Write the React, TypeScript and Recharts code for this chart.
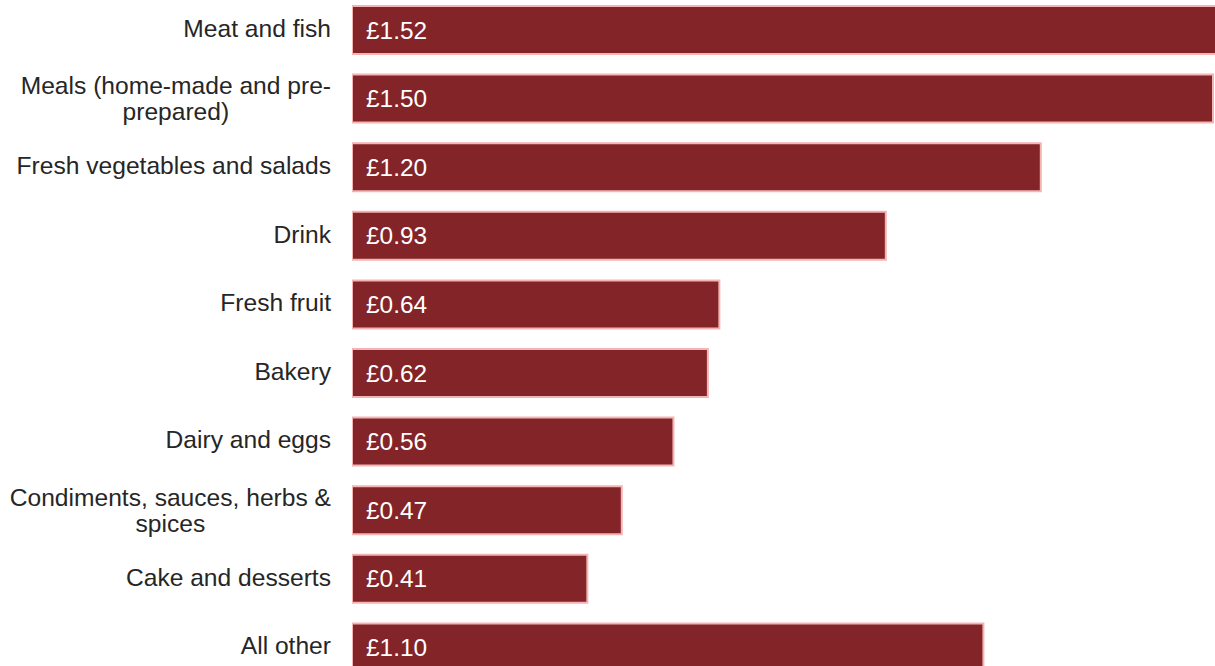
import { BarChart, Bar, XAxis, YAxis, LabelList } from 'recharts';

const categories = [
  'Meat and fish',
  'Meals (home-made and pre-\nprepared)',
  'Fresh vegetables and salads',
  'Drink',
  'Fresh fruit',
  'Bakery',
  'Dairy and eggs',
  'Condiments, sauces, herbs &\nspices',
  'Cake and desserts',
  'All other',
];

const spend = [1.52, 1.5, 1.2, 0.93, 0.64, 0.62, 0.56, 0.47, 0.41, 1.1];

const data = categories.map((name, i) => ({ name, value: spend[i] }));

const FONT = '"Liberation Sans", Arial, sans-serif';
const TICK_SIZE = 24.6;

let ctx: CanvasRenderingContext2D | null = null;
function textWidth(s: string) {
  if (!ctx) ctx = document.createElement('canvas').getContext('2d');
  if (!ctx) return s.length * 12;
  ctx.font = `${TICK_SIZE}px ${FONT}`;
  return ctx.measureText(s).width;
}

function CategoryTick(props: any) {
  const { x, y, payload } = props;
  const lines: string[] = String(payload.value).split('\n');
  if (lines.length === 1) {
    return (
      <text x={x} y={y - 2} textAnchor="end" dominantBaseline="central"
        fontSize={TICK_SIZE} fontFamily={FONT} fill="#262626">
        {lines[0]}
      </text>
    );
  }
  // centred lines inside a right-aligned block
  const w = Math.max(...lines.map(textWidth));
  const cx = x - w / 2;
  const lh = 26;
  const top = y - 1 - ((lines.length - 1) * lh) / 2;
  return (
    <text textAnchor="middle" dominantBaseline="central" fontSize={TICK_SIZE}
      fontFamily={FONT} fill="#262626">
      {lines.map((l, i) => (
        <tspan key={i} x={cx} y={top + i * lh}>{l}</tspan>
      ))}
    </text>
  );
}

function ValueLabel(props: any) {
  const { x, y, height, value } = props;
  return (
    <text x={x + 14} y={y + height / 2} dominantBaseline="central"
      fontSize={24.4} fontFamily={FONT} fill="#ffffff">
      {`£${Number(value).toFixed(2)}`}
    </text>
  );
}

export default function App() {
  return (
    <div style={{ position: 'fixed', left: 0, top: 0, width: 1215, height: 666, overflow: 'hidden', background: '#fff' }}>
      <div style={{ position: 'absolute', left: 0, top: -4 }}>
        <BarChart width={1500} height={686} data={data} layout="vertical"
          margin={{ top: 0, right: 0, bottom: 0, left: 0 }}>
          <XAxis type="number" domain={[0, 2]} hide allowDataOverflow />
          <YAxis type="category" dataKey="name" width={352} axisLine={false}
            tickLine={false} tickSize={0} tickMargin={21} interval={0}
            tick={<CategoryTick />} />
          <Bar dataKey="value" fill="#832528" stroke="#f4b4b4" strokeWidth={2}
            barSize={48} isAnimationActive={false}>
            <LabelList dataKey="value" content={<ValueLabel />} />
          </Bar>
        </BarChart>
      </div>
    </div>
  );
}
